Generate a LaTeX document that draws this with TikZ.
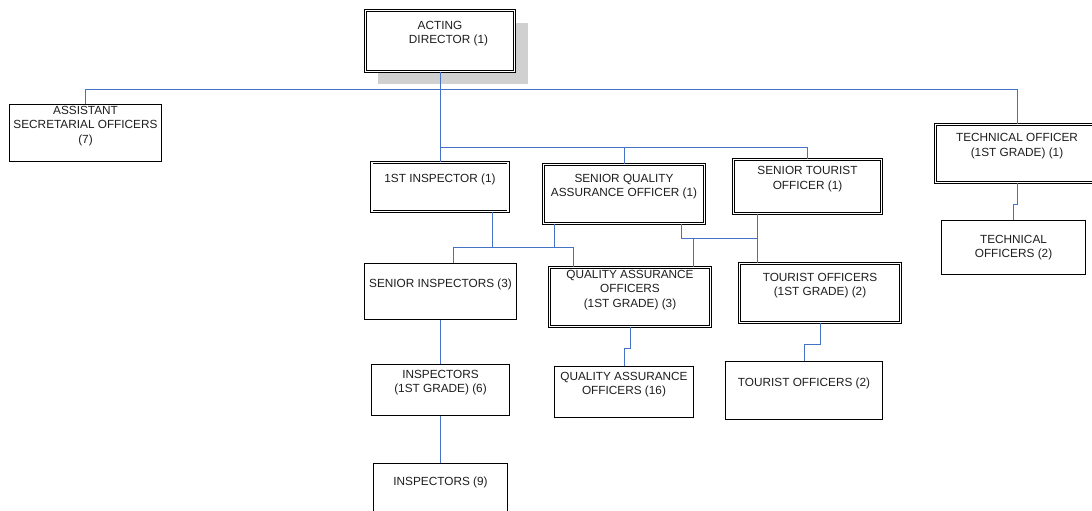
\documentclass[tikz,border=0pt]{standalone}
\usepackage{fontspec}
\setmainfont{Liberation Sans}
\usepackage{xcolor}
\usetikzlibrary{shadows}

\definecolor{linkblue}{RGB}{68,114,196}
\definecolor{shadowgray}{RGB}{208,208,208}
\definecolor{textgray}{RGB}{30,30,30}
\newcommand{\orgfont}{\fontsize{11.8}{14.5}\selectfont}

\begin{document}
\begin{tikzpicture}[x=1pt, y=-1pt,
  post/.style={rectangle, draw=black, line width=0.9pt, fill=white, align=center, text=textgray, font=\orgfont, inner sep=0pt},
  lifted/.style={execute at end node={\rule[-17pt]{0pt}{17pt}}},
  chief/.style={post, double, double distance=1.3pt, line width=0.8pt},
  link/.style={draw=linkblue, line width=1pt}]
\useasboundingbox (0,0) rectangle (1092,511);

\node (dir) [chief, lifted, minimum width=149.2, minimum height=61.2, drop shadow={shadow xshift=13pt, shadow yshift=-12.5pt, fill=shadowgray, opacity=1}] at (440,41) {ACTING\\\hspace*{17pt}DIRECTOR (1)};

\node (asst) [post, lifted, minimum width=152.2, minimum height=57.2] at (85.5,133) {ASSISTANT\\SECRETARIAL OFFICERS\\(7)};
\node (tech) [chief, lifted, minimum width=163.2, minimum height=58.2] at (1017,153.5) {TECHNICAL OFFICER\\(1ST GRADE) (1)};
\node (techo) [post, minimum width=144.2, minimum height=54.2] at (1013.5,247.5) {TECHNICAL\\OFFICERS (2)};

\node (fst) [chief, lifted, minimum width=136.2, minimum height=49.2] at (440,187) {1ST INSPECTOR (1)};
\node (sqa) [chief, lifted, minimum width=161.2, minimum height=59.2] at (624,194) {SENIOR QUALITY\\ASSURANCE OFFICER (1)};
\node (stour) [chief, lifted, minimum width=148.2, minimum height=54.2] at (807.5,186.5) {SENIOR TOURIST\\OFFICER (1)};

\node (sins) [post, lifted, minimum width=152.2, minimum height=56.2] at (440.5,291.5) {SENIOR INSPECTORS (3)};
\node (qa1) [chief, lifted, minimum width=161.2, minimum height=59.2] at (630,297) {QUALITY ASSURANCE\\OFFICERS\\(1ST GRADE) (3)};
\node (tour1) [chief, lifted, minimum width=161.2, minimum height=59.2] at (820,293) {TOURIST OFFICERS\\(1ST GRADE) (2)};

\node (ins1) [post, lifted, minimum width=138.2, minimum height=51.2] at (440.5,390) {INSPECTORS\\(1ST GRADE) (6)};
\node (qa16) [post, lifted, minimum width=139.2, minimum height=51.2] at (624,392) {QUALITY ASSURANCE\\OFFICERS (16)};
\node (to2) [post, lifted, minimum width=157.2, minimum height=58.2] at (804,390.5) {TOURIST OFFICERS (2)};
\node (ins9) [post, lifted, minimum width=134.2, minimum height=52.2] at (440.5,489.5) {INSPECTORS (9)};

% bends of the blue lines
\coordinate (topbus) at (440,89.5);
\coordinate (midbus) at (440,147.5);
\coordinate (insbus) at (492,247.5);
\coordinate (tourbus) at (757,238.5);

\draw[link] (dir.south) -- (fst.north);
\draw[link] (asst.north) |- (topbus) -| (tech.north);
\draw[link] (midbus) -| (sqa.north);
\draw[link] (midbus) -| (stour.north);

\draw[link] (fst.south -| insbus) -- (insbus);
\draw[link] ([xshift=-70pt]sqa.south) |- (insbus);
\draw[link] ([xshift=12.5pt]sins.north) |- (insbus);
\draw[link] ([xshift=-57pt]qa1.north) |- (insbus);

\draw[link] ([xshift=57pt]sqa.south) |- (tourbus);
\draw[link] ([xshift=63pt]qa1.north) |- (tourbus);
\draw[link] (stour.south -| tourbus) -- (tour1.north -| tourbus);

\draw[link] (sins) -- (ins1);
\draw[link] (ins1) -- (ins9);
\draw[link] (qa1.south) -- ++(0,21) -| (qa16.north);
\draw[link] (tour1.south) -- ++(0,21) -| (to2.north);
\draw[link] (tech.south) -- ++(0,21) -| (techo.north);

\end{tikzpicture}
\end{document}
